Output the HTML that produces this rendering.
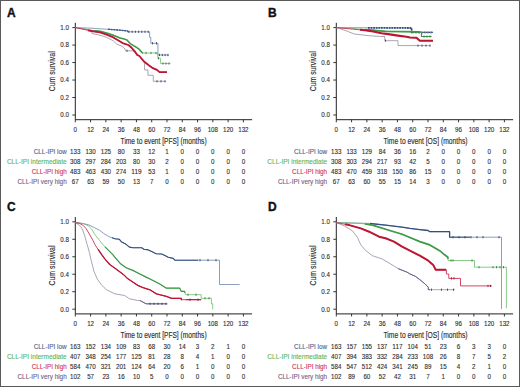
<!DOCTYPE html>
<html><head><meta charset="utf-8"><style>
html,body{margin:0;padding:0;background:#fff;}
body{width:520px;height:387px;overflow:hidden;}
svg{display:block;font-family:"Liberation Sans", sans-serif;}
</style></head><body>
<svg width="520" height="387" viewBox="0 0 520 387">
<rect x="0" y="0" width="520" height="387" fill="#fff"/>
<text x="6.9" y="16.6" font-size="12" font-weight="bold" fill="#111" stroke="#111" stroke-width="0.35">A</text>
<path d="M75.3 22.8V119.7H252.1" fill="none" stroke="#222" stroke-width="1"/>
<text x="68.9" y="117.4" text-anchor="end" font-size="7.0" fill="#2e2e2e" stroke="#2e2e2e" stroke-width="0.12" textLength="8.6" lengthAdjust="spacingAndGlyphs">0.0</text>
<text x="68.9" y="99.92" text-anchor="end" font-size="7.0" fill="#2e2e2e" stroke="#2e2e2e" stroke-width="0.12" textLength="8.6" lengthAdjust="spacingAndGlyphs">0.2</text>
<text x="68.9" y="82.44" text-anchor="end" font-size="7.0" fill="#2e2e2e" stroke="#2e2e2e" stroke-width="0.12" textLength="8.6" lengthAdjust="spacingAndGlyphs">0.4</text>
<text x="68.9" y="64.96" text-anchor="end" font-size="7.0" fill="#2e2e2e" stroke="#2e2e2e" stroke-width="0.12" textLength="8.6" lengthAdjust="spacingAndGlyphs">0.6</text>
<text x="68.9" y="47.48" text-anchor="end" font-size="7.0" fill="#2e2e2e" stroke="#2e2e2e" stroke-width="0.12" textLength="8.6" lengthAdjust="spacingAndGlyphs">0.8</text>
<text x="68.9" y="30" text-anchor="end" font-size="7.0" fill="#2e2e2e" stroke="#2e2e2e" stroke-width="0.12" textLength="8.6" lengthAdjust="spacingAndGlyphs">1.0</text>
<text x="73.58" y="131.8" font-size="7.0" fill="#2e2e2e" stroke="#2e2e2e" stroke-width="0.12" textLength="3.45" lengthAdjust="spacingAndGlyphs">0</text>
<text x="87.13" y="131.8" font-size="7.0" fill="#2e2e2e" stroke="#2e2e2e" stroke-width="0.12" textLength="6.9" lengthAdjust="spacingAndGlyphs">12</text>
<text x="102.41" y="131.8" font-size="7.0" fill="#2e2e2e" stroke="#2e2e2e" stroke-width="0.12" textLength="6.9" lengthAdjust="spacingAndGlyphs">24</text>
<text x="117.7" y="131.8" font-size="7.0" fill="#2e2e2e" stroke="#2e2e2e" stroke-width="0.12" textLength="6.9" lengthAdjust="spacingAndGlyphs">36</text>
<text x="132.98" y="131.8" font-size="7.0" fill="#2e2e2e" stroke="#2e2e2e" stroke-width="0.12" textLength="6.9" lengthAdjust="spacingAndGlyphs">48</text>
<text x="148.26" y="131.8" font-size="7.0" fill="#2e2e2e" stroke="#2e2e2e" stroke-width="0.12" textLength="6.9" lengthAdjust="spacingAndGlyphs">60</text>
<text x="163.54" y="131.8" font-size="7.0" fill="#2e2e2e" stroke="#2e2e2e" stroke-width="0.12" textLength="6.9" lengthAdjust="spacingAndGlyphs">72</text>
<text x="178.82" y="131.8" font-size="7.0" fill="#2e2e2e" stroke="#2e2e2e" stroke-width="0.12" textLength="6.9" lengthAdjust="spacingAndGlyphs">84</text>
<text x="194.11" y="131.8" font-size="7.0" fill="#2e2e2e" stroke="#2e2e2e" stroke-width="0.12" textLength="6.9" lengthAdjust="spacingAndGlyphs">96</text>
<text x="207.66" y="131.8" font-size="7.0" fill="#2e2e2e" stroke="#2e2e2e" stroke-width="0.12" textLength="10.35" lengthAdjust="spacingAndGlyphs">108</text>
<text x="222.94" y="131.8" font-size="7.0" fill="#2e2e2e" stroke="#2e2e2e" stroke-width="0.12" textLength="10.35" lengthAdjust="spacingAndGlyphs">120</text>
<text x="238.23" y="131.8" font-size="7.0" fill="#2e2e2e" stroke="#2e2e2e" stroke-width="0.12" textLength="10.35" lengthAdjust="spacingAndGlyphs">132</text>
<path d="M72.3 115H75.3M72.3 97.52H75.3M72.3 80.04H75.3M72.3 62.56H75.3M72.3 45.08H75.3M72.3 27.6H75.3M75.3 119.7V122.3M90.58 119.7V122.3M105.86 119.7V122.3M121.15 119.7V122.3M136.43 119.7V122.3M151.71 119.7V122.3M166.99 119.7V122.3M182.27 119.7V122.3M197.56 119.7V122.3M212.84 119.7V122.3M228.12 119.7V122.3M243.4 119.7V122.3" stroke="#222" stroke-width="0.9"/>
<text transform="translate(55.3 71.3) rotate(-90)" text-anchor="middle" font-size="8.4" fill="#2e2e2e" stroke="#2e2e2e" stroke-width="0.15" textLength="40" lengthAdjust="spacingAndGlyphs">Cum survival</text>
<text x="120.6" y="143.7" font-size="8.6" fill="#2e2e2e" stroke="#2e2e2e" stroke-width="0.15" textLength="86" lengthAdjust="spacingAndGlyphs">Time to event [PFS] (months)</text>
<path d="M75.3 27.6 L90 28.1 L100 28.8 L110 29.4 L119 30.1 L127.5 30.9 L128.2 31.8 L149.6 31.8 L149.6 37.2 L150.8 37.2 L150.8 43.3 L157.9 43.3 L157.9 55 L169 55" fill="none" stroke="#6f86aa" stroke-width="0.8" stroke-linejoin="round"/>
<path d="M108 29.28 L110 29.4 L119 30.1 L127.5 30.9 L128.2 31.8 L128.5 31.8" fill="none" stroke="#35507e" stroke-width="1.4" stroke-linejoin="round" stroke-dasharray="2 0.7"/>
<path d="M129 30.7v2.2M132.2 30.7v2.2M135.4 30.7v2.2M138.6 30.7v2.2M141.8 30.7v2.2M145 30.7v2.2M148.2 30.7v2.2M152.5 42.2v2.2M156.5 42.2v2.2M159.5 53.9v2.2M162.3 53.9v2.2M165.1 53.9v2.2M167.9 53.9v2.2" stroke="#2a3f6a" stroke-width="0.9"/>
<path d="M75.3 27.6 L91.5 30.3 L100 31.3 L106.7 33 L113.3 35.2 L120 38 L124.4 39.1 L127 40 L130.6 43.9 L136.1 47.2 L139.4 49.4 L142.2 52.8 L143 53 L157.8 53 L157.8 58.3 L160.6 58.3 L160.6 63.5 L170.5 63.5" fill="none" stroke="#6cbb6c" stroke-width="0.8" stroke-linejoin="round"/>
<path d="M95 30.71 L100 31.3 L106.7 33 L113.3 35.2 L120 38 L124.4 39.1 L127 40 L130.6 43.9 L136.1 47.2 L139.4 49.4 L142.2 52.8 L143 53 L143 53" fill="none" stroke="#3d9a45" stroke-width="1.5" stroke-linejoin="round"/>
<path d="M146 51.9v2.2M151 51.9v2.2M156 51.9v2.2M158.5 57.2v2.2M163 62.4v2.2M166 62.4v2.2M169 62.4v2.2" stroke="#2f7f3a" stroke-width="0.9"/>
<path d="M75.3 27.6 L85 29 L91.5 30.6 L92 33.5 L100 35.2 L106.7 37.4 L113.3 40.8 L116.7 44.1 L122.2 46.3 L124.4 48 L125.6 50.8 L132.2 50.8 L136 52.5 L140 57 L144.6 63.3 L144.6 69.9 L147.9 69.9 L147.9 75.3 L153.3 75.3 L153.3 81.3 L165.7 81.3" fill="none" stroke="#978aa2" stroke-width="0.8" stroke-linejoin="round"/>
<path d="M127 49.7v2.2M157 80.2v2.2M161 80.2v2.2M165 80.2v2.2" stroke="#4a3a68" stroke-width="0.9"/>
<path d="M75.3 27.6 L91.5 31 L100 32.4 L106.7 34.7 L113.3 37.4 L118.9 40.8 L123.3 43.4 L128.3 45 L131.7 47.8 L135 51.7 L137.2 55 L139.4 56 L141.3 58.3 L144.6 62 L148.8 65.3 L152.9 68.2 L157 69.9 L159.5 72.2 L167 72.2" fill="none" stroke="#cc3250" stroke-width="0.9" stroke-linejoin="round"/>
<path d="M88 30.27 L91.5 31 L100 32.4 L106.7 34.7 L113.3 37.4 L118.9 40.8 L123.3 43.4 L128.3 45 L131.7 47.8 L135 51.7 L137.2 55 L139.4 56 L141.3 58.3 L144.6 62 L148.8 65.3 L152.9 68.2 L157 69.9 L159.5 72.2 L167 72.2" fill="none" stroke="#bd1533" stroke-width="1.8" stroke-linejoin="round"/>
<text x="33.7" y="154.2" font-size="7.5" fill="#4d6390" stroke="#4d6390" stroke-width="0.12" textLength="33" lengthAdjust="spacingAndGlyphs">CLL-IPI low</text>
<text x="70.12" y="154.2" font-size="7.0" fill="#2e2e2e" stroke="#2e2e2e" stroke-width="0.12" textLength="10.35" lengthAdjust="spacingAndGlyphs">133</text>
<text x="85.41" y="154.2" font-size="7.0" fill="#2e2e2e" stroke="#2e2e2e" stroke-width="0.12" textLength="10.35" lengthAdjust="spacingAndGlyphs">130</text>
<text x="100.69" y="154.2" font-size="7.0" fill="#2e2e2e" stroke="#2e2e2e" stroke-width="0.12" textLength="10.35" lengthAdjust="spacingAndGlyphs">125</text>
<text x="117.7" y="154.2" font-size="7.0" fill="#2e2e2e" stroke="#2e2e2e" stroke-width="0.12" textLength="6.9" lengthAdjust="spacingAndGlyphs">80</text>
<text x="132.98" y="154.2" font-size="7.0" fill="#2e2e2e" stroke="#2e2e2e" stroke-width="0.12" textLength="6.9" lengthAdjust="spacingAndGlyphs">33</text>
<text x="148.26" y="154.2" font-size="7.0" fill="#2e2e2e" stroke="#2e2e2e" stroke-width="0.12" textLength="6.9" lengthAdjust="spacingAndGlyphs">12</text>
<text x="165.27" y="154.2" font-size="7.0" fill="#2e2e2e" stroke="#2e2e2e" stroke-width="0.12" textLength="3.45" lengthAdjust="spacingAndGlyphs">1</text>
<text x="180.55" y="154.2" font-size="7.0" fill="#2e2e2e" stroke="#2e2e2e" stroke-width="0.12" textLength="3.45" lengthAdjust="spacingAndGlyphs">0</text>
<text x="195.83" y="154.2" font-size="7.0" fill="#2e2e2e" stroke="#2e2e2e" stroke-width="0.12" textLength="3.45" lengthAdjust="spacingAndGlyphs">0</text>
<text x="211.11" y="154.2" font-size="7.0" fill="#2e2e2e" stroke="#2e2e2e" stroke-width="0.12" textLength="3.45" lengthAdjust="spacingAndGlyphs">0</text>
<text x="226.4" y="154.2" font-size="7.0" fill="#2e2e2e" stroke="#2e2e2e" stroke-width="0.12" textLength="3.45" lengthAdjust="spacingAndGlyphs">0</text>
<text x="241.68" y="154.2" font-size="7.0" fill="#2e2e2e" stroke="#2e2e2e" stroke-width="0.12" textLength="3.45" lengthAdjust="spacingAndGlyphs">0</text>
<text x="6.9" y="164.2" font-size="7.5" fill="#5db55d" stroke="#5db55d" stroke-width="0.12" textLength="59.8" lengthAdjust="spacingAndGlyphs">CLL-IPI intermediate</text>
<text x="70.12" y="164.2" font-size="7.0" fill="#2e2e2e" stroke="#2e2e2e" stroke-width="0.12" textLength="10.35" lengthAdjust="spacingAndGlyphs">308</text>
<text x="85.41" y="164.2" font-size="7.0" fill="#2e2e2e" stroke="#2e2e2e" stroke-width="0.12" textLength="10.35" lengthAdjust="spacingAndGlyphs">297</text>
<text x="100.69" y="164.2" font-size="7.0" fill="#2e2e2e" stroke="#2e2e2e" stroke-width="0.12" textLength="10.35" lengthAdjust="spacingAndGlyphs">284</text>
<text x="115.97" y="164.2" font-size="7.0" fill="#2e2e2e" stroke="#2e2e2e" stroke-width="0.12" textLength="10.35" lengthAdjust="spacingAndGlyphs">203</text>
<text x="132.98" y="164.2" font-size="7.0" fill="#2e2e2e" stroke="#2e2e2e" stroke-width="0.12" textLength="6.9" lengthAdjust="spacingAndGlyphs">80</text>
<text x="148.26" y="164.2" font-size="7.0" fill="#2e2e2e" stroke="#2e2e2e" stroke-width="0.12" textLength="6.9" lengthAdjust="spacingAndGlyphs">30</text>
<text x="165.27" y="164.2" font-size="7.0" fill="#2e2e2e" stroke="#2e2e2e" stroke-width="0.12" textLength="3.45" lengthAdjust="spacingAndGlyphs">2</text>
<text x="180.55" y="164.2" font-size="7.0" fill="#2e2e2e" stroke="#2e2e2e" stroke-width="0.12" textLength="3.45" lengthAdjust="spacingAndGlyphs">0</text>
<text x="195.83" y="164.2" font-size="7.0" fill="#2e2e2e" stroke="#2e2e2e" stroke-width="0.12" textLength="3.45" lengthAdjust="spacingAndGlyphs">0</text>
<text x="211.11" y="164.2" font-size="7.0" fill="#2e2e2e" stroke="#2e2e2e" stroke-width="0.12" textLength="3.45" lengthAdjust="spacingAndGlyphs">0</text>
<text x="226.4" y="164.2" font-size="7.0" fill="#2e2e2e" stroke="#2e2e2e" stroke-width="0.12" textLength="3.45" lengthAdjust="spacingAndGlyphs">0</text>
<text x="241.68" y="164.2" font-size="7.0" fill="#2e2e2e" stroke="#2e2e2e" stroke-width="0.12" textLength="3.45" lengthAdjust="spacingAndGlyphs">0</text>
<text x="31.7" y="174.3" font-size="7.5" fill="#cc3358" stroke="#cc3358" stroke-width="0.12" textLength="35" lengthAdjust="spacingAndGlyphs">CLL-IPI high</text>
<text x="70.12" y="174.3" font-size="7.0" fill="#2e2e2e" stroke="#2e2e2e" stroke-width="0.12" textLength="10.35" lengthAdjust="spacingAndGlyphs">483</text>
<text x="85.41" y="174.3" font-size="7.0" fill="#2e2e2e" stroke="#2e2e2e" stroke-width="0.12" textLength="10.35" lengthAdjust="spacingAndGlyphs">463</text>
<text x="100.69" y="174.3" font-size="7.0" fill="#2e2e2e" stroke="#2e2e2e" stroke-width="0.12" textLength="10.35" lengthAdjust="spacingAndGlyphs">430</text>
<text x="115.97" y="174.3" font-size="7.0" fill="#2e2e2e" stroke="#2e2e2e" stroke-width="0.12" textLength="10.35" lengthAdjust="spacingAndGlyphs">274</text>
<text x="131.25" y="174.3" font-size="7.0" fill="#2e2e2e" stroke="#2e2e2e" stroke-width="0.12" textLength="10.35" lengthAdjust="spacingAndGlyphs">119</text>
<text x="148.26" y="174.3" font-size="7.0" fill="#2e2e2e" stroke="#2e2e2e" stroke-width="0.12" textLength="6.9" lengthAdjust="spacingAndGlyphs">53</text>
<text x="165.27" y="174.3" font-size="7.0" fill="#2e2e2e" stroke="#2e2e2e" stroke-width="0.12" textLength="3.45" lengthAdjust="spacingAndGlyphs">1</text>
<text x="180.55" y="174.3" font-size="7.0" fill="#2e2e2e" stroke="#2e2e2e" stroke-width="0.12" textLength="3.45" lengthAdjust="spacingAndGlyphs">0</text>
<text x="195.83" y="174.3" font-size="7.0" fill="#2e2e2e" stroke="#2e2e2e" stroke-width="0.12" textLength="3.45" lengthAdjust="spacingAndGlyphs">0</text>
<text x="211.11" y="174.3" font-size="7.0" fill="#2e2e2e" stroke="#2e2e2e" stroke-width="0.12" textLength="3.45" lengthAdjust="spacingAndGlyphs">0</text>
<text x="226.4" y="174.3" font-size="7.0" fill="#2e2e2e" stroke="#2e2e2e" stroke-width="0.12" textLength="3.45" lengthAdjust="spacingAndGlyphs">0</text>
<text x="241.68" y="174.3" font-size="7.0" fill="#2e2e2e" stroke="#2e2e2e" stroke-width="0.12" textLength="3.45" lengthAdjust="spacingAndGlyphs">0</text>
<text x="17.5" y="184.2" font-size="7.5" fill="#6f5e88" stroke="#6f5e88" stroke-width="0.12" textLength="49.2" lengthAdjust="spacingAndGlyphs">CLL-IPI very high</text>
<text x="71.85" y="184.2" font-size="7.0" fill="#2e2e2e" stroke="#2e2e2e" stroke-width="0.12" textLength="6.9" lengthAdjust="spacingAndGlyphs">67</text>
<text x="87.13" y="184.2" font-size="7.0" fill="#2e2e2e" stroke="#2e2e2e" stroke-width="0.12" textLength="6.9" lengthAdjust="spacingAndGlyphs">63</text>
<text x="102.41" y="184.2" font-size="7.0" fill="#2e2e2e" stroke="#2e2e2e" stroke-width="0.12" textLength="6.9" lengthAdjust="spacingAndGlyphs">59</text>
<text x="117.7" y="184.2" font-size="7.0" fill="#2e2e2e" stroke="#2e2e2e" stroke-width="0.12" textLength="6.9" lengthAdjust="spacingAndGlyphs">50</text>
<text x="132.98" y="184.2" font-size="7.0" fill="#2e2e2e" stroke="#2e2e2e" stroke-width="0.12" textLength="6.9" lengthAdjust="spacingAndGlyphs">13</text>
<text x="149.99" y="184.2" font-size="7.0" fill="#2e2e2e" stroke="#2e2e2e" stroke-width="0.12" textLength="3.45" lengthAdjust="spacingAndGlyphs">7</text>
<text x="165.27" y="184.2" font-size="7.0" fill="#2e2e2e" stroke="#2e2e2e" stroke-width="0.12" textLength="3.45" lengthAdjust="spacingAndGlyphs">0</text>
<text x="180.55" y="184.2" font-size="7.0" fill="#2e2e2e" stroke="#2e2e2e" stroke-width="0.12" textLength="3.45" lengthAdjust="spacingAndGlyphs">0</text>
<text x="195.83" y="184.2" font-size="7.0" fill="#2e2e2e" stroke="#2e2e2e" stroke-width="0.12" textLength="3.45" lengthAdjust="spacingAndGlyphs">0</text>
<text x="211.11" y="184.2" font-size="7.0" fill="#2e2e2e" stroke="#2e2e2e" stroke-width="0.12" textLength="3.45" lengthAdjust="spacingAndGlyphs">0</text>
<text x="226.4" y="184.2" font-size="7.0" fill="#2e2e2e" stroke="#2e2e2e" stroke-width="0.12" textLength="3.45" lengthAdjust="spacingAndGlyphs">0</text>
<text x="241.68" y="184.2" font-size="7.0" fill="#2e2e2e" stroke="#2e2e2e" stroke-width="0.12" textLength="3.45" lengthAdjust="spacingAndGlyphs">0</text>
<text x="267.9" y="16.6" font-size="12" font-weight="bold" fill="#111" stroke="#111" stroke-width="0.35">B</text>
<path d="M336.3 22.8V119.7H513.1" fill="none" stroke="#222" stroke-width="1"/>
<text x="329.9" y="117.4" text-anchor="end" font-size="7.0" fill="#2e2e2e" stroke="#2e2e2e" stroke-width="0.12" textLength="8.6" lengthAdjust="spacingAndGlyphs">0.0</text>
<text x="329.9" y="99.92" text-anchor="end" font-size="7.0" fill="#2e2e2e" stroke="#2e2e2e" stroke-width="0.12" textLength="8.6" lengthAdjust="spacingAndGlyphs">0.2</text>
<text x="329.9" y="82.44" text-anchor="end" font-size="7.0" fill="#2e2e2e" stroke="#2e2e2e" stroke-width="0.12" textLength="8.6" lengthAdjust="spacingAndGlyphs">0.4</text>
<text x="329.9" y="64.96" text-anchor="end" font-size="7.0" fill="#2e2e2e" stroke="#2e2e2e" stroke-width="0.12" textLength="8.6" lengthAdjust="spacingAndGlyphs">0.6</text>
<text x="329.9" y="47.48" text-anchor="end" font-size="7.0" fill="#2e2e2e" stroke="#2e2e2e" stroke-width="0.12" textLength="8.6" lengthAdjust="spacingAndGlyphs">0.8</text>
<text x="329.9" y="30" text-anchor="end" font-size="7.0" fill="#2e2e2e" stroke="#2e2e2e" stroke-width="0.12" textLength="8.6" lengthAdjust="spacingAndGlyphs">1.0</text>
<text x="334.57" y="131.8" font-size="7.0" fill="#2e2e2e" stroke="#2e2e2e" stroke-width="0.12" textLength="3.45" lengthAdjust="spacingAndGlyphs">0</text>
<text x="348.13" y="131.8" font-size="7.0" fill="#2e2e2e" stroke="#2e2e2e" stroke-width="0.12" textLength="6.9" lengthAdjust="spacingAndGlyphs">12</text>
<text x="363.41" y="131.8" font-size="7.0" fill="#2e2e2e" stroke="#2e2e2e" stroke-width="0.12" textLength="6.9" lengthAdjust="spacingAndGlyphs">24</text>
<text x="378.7" y="131.8" font-size="7.0" fill="#2e2e2e" stroke="#2e2e2e" stroke-width="0.12" textLength="6.9" lengthAdjust="spacingAndGlyphs">36</text>
<text x="393.98" y="131.8" font-size="7.0" fill="#2e2e2e" stroke="#2e2e2e" stroke-width="0.12" textLength="6.9" lengthAdjust="spacingAndGlyphs">48</text>
<text x="409.26" y="131.8" font-size="7.0" fill="#2e2e2e" stroke="#2e2e2e" stroke-width="0.12" textLength="6.9" lengthAdjust="spacingAndGlyphs">60</text>
<text x="424.54" y="131.8" font-size="7.0" fill="#2e2e2e" stroke="#2e2e2e" stroke-width="0.12" textLength="6.9" lengthAdjust="spacingAndGlyphs">72</text>
<text x="439.82" y="131.8" font-size="7.0" fill="#2e2e2e" stroke="#2e2e2e" stroke-width="0.12" textLength="6.9" lengthAdjust="spacingAndGlyphs">84</text>
<text x="455.11" y="131.8" font-size="7.0" fill="#2e2e2e" stroke="#2e2e2e" stroke-width="0.12" textLength="6.9" lengthAdjust="spacingAndGlyphs">96</text>
<text x="468.66" y="131.8" font-size="7.0" fill="#2e2e2e" stroke="#2e2e2e" stroke-width="0.12" textLength="10.35" lengthAdjust="spacingAndGlyphs">108</text>
<text x="483.94" y="131.8" font-size="7.0" fill="#2e2e2e" stroke="#2e2e2e" stroke-width="0.12" textLength="10.35" lengthAdjust="spacingAndGlyphs">120</text>
<text x="499.23" y="131.8" font-size="7.0" fill="#2e2e2e" stroke="#2e2e2e" stroke-width="0.12" textLength="10.35" lengthAdjust="spacingAndGlyphs">132</text>
<path d="M333.3 115H336.3M333.3 97.52H336.3M333.3 80.04H336.3M333.3 62.56H336.3M333.3 45.08H336.3M333.3 27.6H336.3M336.3 119.7V122.3M351.58 119.7V122.3M366.86 119.7V122.3M382.15 119.7V122.3M397.43 119.7V122.3M412.71 119.7V122.3M427.99 119.7V122.3M443.27 119.7V122.3M458.56 119.7V122.3M473.84 119.7V122.3M489.12 119.7V122.3M504.4 119.7V122.3" stroke="#222" stroke-width="0.9"/>
<text transform="translate(316.3 71.3) rotate(-90)" text-anchor="middle" font-size="8.4" fill="#2e2e2e" stroke="#2e2e2e" stroke-width="0.15" textLength="40" lengthAdjust="spacingAndGlyphs">Cum survival</text>
<text x="383.5" y="143.7" font-size="8.6" fill="#2e2e2e" stroke="#2e2e2e" stroke-width="0.15" textLength="84" lengthAdjust="spacingAndGlyphs">Time to event [OS] (months)</text>
<path d="M336.3 27.6 L369 27.8 L411.6 28 L411.6 32.4 L433 32.4" fill="none" stroke="#6f86aa" stroke-width="0.8" stroke-linejoin="round"/>
<path d="M368 27.79 L369 27.8 L411.6 28 L411.6 32.4 L412 32.4" fill="none" stroke="#35507e" stroke-width="1.8" stroke-linejoin="round" stroke-dasharray="1.8 0.8"/>
<path d="M412 32.4 L433 32.4" fill="none" stroke="#35507e" stroke-width="1.2" stroke-linejoin="round" stroke-dasharray="1.2 1.6"/>
<path d="M413 31.3v2.2M416 31.3v2.2M419 31.3v2.2M422 31.3v2.2M425 31.3v2.2M428 31.3v2.2M431 31.3v2.2" stroke="#2a3f6a" stroke-width="0.9"/>
<path d="M336.3 27.6 L351 28.3 L369 29.9 L385.6 31.3 L419.8 31.8 L419.8 32.5 L421.5 32.5 L421.5 36.5 L431.4 36.5" fill="none" stroke="#6cbb6c" stroke-width="0.8" stroke-linejoin="round"/>
<path d="M365 29.54 L369 29.9 L385.6 31.3 L419.8 31.8 L419.8 32.5 L420 32.5" fill="none" stroke="#3d9a45" stroke-width="1.8" stroke-linejoin="round"/>
<path d="M421 32.5 L421.5 32.5 L421.5 36.5 L431.4 36.5" fill="none" stroke="#3d9a45" stroke-width="1.2" stroke-linejoin="round"/>
<path d="M424 35.4v2.2M427 35.4v2.2M430 35.4v2.2" stroke="#2f7f3a" stroke-width="0.9"/>
<path d="M336.3 27.6 L346 30.7 L354.2 34 L369 35.7 L380.6 36.5 L384.8 36.5 L384.8 40.7 L398 40.7 L398 45.6 L430.6 45.6" fill="none" stroke="#978aa2" stroke-width="0.8" stroke-linejoin="round"/>
<path d="M385.5 39.6v2.2M418 44.5v2.2M422 44.5v2.2M426 44.5v2.2M430 44.5v2.2" stroke="#4a3a68" stroke-width="0.9"/>
<path d="M336.3 27.6 L352.5 29.1 L365 30.3 L373.3 31.5 L381.5 33.2 L389.8 34.4 L398 35.6 L406.4 36.7 L410 37.5 L416.5 37.8 L419.8 40.7 L433 40.7" fill="none" stroke="#cc3250" stroke-width="0.9" stroke-linejoin="round"/>
<path d="M360 29.82 L365 30.3 L373.3 31.5 L381.5 33.2 L389.8 34.4 L398 35.6 L406.4 36.7 L410 37.5 L416.5 37.8 L419.8 40.7 L433 40.7" fill="none" stroke="#bd1533" stroke-width="2.1" stroke-linejoin="round"/>
<text x="294.1" y="154.2" font-size="7.5" fill="#4d6390" stroke="#4d6390" stroke-width="0.12" textLength="33" lengthAdjust="spacingAndGlyphs">CLL-IPI low</text>
<text x="331.12" y="154.2" font-size="7.0" fill="#2e2e2e" stroke="#2e2e2e" stroke-width="0.12" textLength="10.35" lengthAdjust="spacingAndGlyphs">133</text>
<text x="346.41" y="154.2" font-size="7.0" fill="#2e2e2e" stroke="#2e2e2e" stroke-width="0.12" textLength="10.35" lengthAdjust="spacingAndGlyphs">133</text>
<text x="361.69" y="154.2" font-size="7.0" fill="#2e2e2e" stroke="#2e2e2e" stroke-width="0.12" textLength="10.35" lengthAdjust="spacingAndGlyphs">129</text>
<text x="378.7" y="154.2" font-size="7.0" fill="#2e2e2e" stroke="#2e2e2e" stroke-width="0.12" textLength="6.9" lengthAdjust="spacingAndGlyphs">84</text>
<text x="393.98" y="154.2" font-size="7.0" fill="#2e2e2e" stroke="#2e2e2e" stroke-width="0.12" textLength="6.9" lengthAdjust="spacingAndGlyphs">36</text>
<text x="409.26" y="154.2" font-size="7.0" fill="#2e2e2e" stroke="#2e2e2e" stroke-width="0.12" textLength="6.9" lengthAdjust="spacingAndGlyphs">16</text>
<text x="426.27" y="154.2" font-size="7.0" fill="#2e2e2e" stroke="#2e2e2e" stroke-width="0.12" textLength="3.45" lengthAdjust="spacingAndGlyphs">2</text>
<text x="441.55" y="154.2" font-size="7.0" fill="#2e2e2e" stroke="#2e2e2e" stroke-width="0.12" textLength="3.45" lengthAdjust="spacingAndGlyphs">0</text>
<text x="456.83" y="154.2" font-size="7.0" fill="#2e2e2e" stroke="#2e2e2e" stroke-width="0.12" textLength="3.45" lengthAdjust="spacingAndGlyphs">0</text>
<text x="472.11" y="154.2" font-size="7.0" fill="#2e2e2e" stroke="#2e2e2e" stroke-width="0.12" textLength="3.45" lengthAdjust="spacingAndGlyphs">0</text>
<text x="487.39" y="154.2" font-size="7.0" fill="#2e2e2e" stroke="#2e2e2e" stroke-width="0.12" textLength="3.45" lengthAdjust="spacingAndGlyphs">0</text>
<text x="502.68" y="154.2" font-size="7.0" fill="#2e2e2e" stroke="#2e2e2e" stroke-width="0.12" textLength="3.45" lengthAdjust="spacingAndGlyphs">0</text>
<text x="267.3" y="164.2" font-size="7.5" fill="#5db55d" stroke="#5db55d" stroke-width="0.12" textLength="59.8" lengthAdjust="spacingAndGlyphs">CLL-IPI intermediate</text>
<text x="331.12" y="164.2" font-size="7.0" fill="#2e2e2e" stroke="#2e2e2e" stroke-width="0.12" textLength="10.35" lengthAdjust="spacingAndGlyphs">308</text>
<text x="346.41" y="164.2" font-size="7.0" fill="#2e2e2e" stroke="#2e2e2e" stroke-width="0.12" textLength="10.35" lengthAdjust="spacingAndGlyphs">303</text>
<text x="361.69" y="164.2" font-size="7.0" fill="#2e2e2e" stroke="#2e2e2e" stroke-width="0.12" textLength="10.35" lengthAdjust="spacingAndGlyphs">294</text>
<text x="376.97" y="164.2" font-size="7.0" fill="#2e2e2e" stroke="#2e2e2e" stroke-width="0.12" textLength="10.35" lengthAdjust="spacingAndGlyphs">217</text>
<text x="393.98" y="164.2" font-size="7.0" fill="#2e2e2e" stroke="#2e2e2e" stroke-width="0.12" textLength="6.9" lengthAdjust="spacingAndGlyphs">93</text>
<text x="409.26" y="164.2" font-size="7.0" fill="#2e2e2e" stroke="#2e2e2e" stroke-width="0.12" textLength="6.9" lengthAdjust="spacingAndGlyphs">42</text>
<text x="426.27" y="164.2" font-size="7.0" fill="#2e2e2e" stroke="#2e2e2e" stroke-width="0.12" textLength="3.45" lengthAdjust="spacingAndGlyphs">5</text>
<text x="441.55" y="164.2" font-size="7.0" fill="#2e2e2e" stroke="#2e2e2e" stroke-width="0.12" textLength="3.45" lengthAdjust="spacingAndGlyphs">0</text>
<text x="456.83" y="164.2" font-size="7.0" fill="#2e2e2e" stroke="#2e2e2e" stroke-width="0.12" textLength="3.45" lengthAdjust="spacingAndGlyphs">0</text>
<text x="472.11" y="164.2" font-size="7.0" fill="#2e2e2e" stroke="#2e2e2e" stroke-width="0.12" textLength="3.45" lengthAdjust="spacingAndGlyphs">0</text>
<text x="487.39" y="164.2" font-size="7.0" fill="#2e2e2e" stroke="#2e2e2e" stroke-width="0.12" textLength="3.45" lengthAdjust="spacingAndGlyphs">0</text>
<text x="502.68" y="164.2" font-size="7.0" fill="#2e2e2e" stroke="#2e2e2e" stroke-width="0.12" textLength="3.45" lengthAdjust="spacingAndGlyphs">0</text>
<text x="292.1" y="174.3" font-size="7.5" fill="#cc3358" stroke="#cc3358" stroke-width="0.12" textLength="35" lengthAdjust="spacingAndGlyphs">CLL-IPI high</text>
<text x="331.12" y="174.3" font-size="7.0" fill="#2e2e2e" stroke="#2e2e2e" stroke-width="0.12" textLength="10.35" lengthAdjust="spacingAndGlyphs">483</text>
<text x="346.41" y="174.3" font-size="7.0" fill="#2e2e2e" stroke="#2e2e2e" stroke-width="0.12" textLength="10.35" lengthAdjust="spacingAndGlyphs">470</text>
<text x="361.69" y="174.3" font-size="7.0" fill="#2e2e2e" stroke="#2e2e2e" stroke-width="0.12" textLength="10.35" lengthAdjust="spacingAndGlyphs">459</text>
<text x="376.97" y="174.3" font-size="7.0" fill="#2e2e2e" stroke="#2e2e2e" stroke-width="0.12" textLength="10.35" lengthAdjust="spacingAndGlyphs">318</text>
<text x="392.25" y="174.3" font-size="7.0" fill="#2e2e2e" stroke="#2e2e2e" stroke-width="0.12" textLength="10.35" lengthAdjust="spacingAndGlyphs">150</text>
<text x="409.26" y="174.3" font-size="7.0" fill="#2e2e2e" stroke="#2e2e2e" stroke-width="0.12" textLength="6.9" lengthAdjust="spacingAndGlyphs">86</text>
<text x="424.54" y="174.3" font-size="7.0" fill="#2e2e2e" stroke="#2e2e2e" stroke-width="0.12" textLength="6.9" lengthAdjust="spacingAndGlyphs">15</text>
<text x="441.55" y="174.3" font-size="7.0" fill="#2e2e2e" stroke="#2e2e2e" stroke-width="0.12" textLength="3.45" lengthAdjust="spacingAndGlyphs">0</text>
<text x="456.83" y="174.3" font-size="7.0" fill="#2e2e2e" stroke="#2e2e2e" stroke-width="0.12" textLength="3.45" lengthAdjust="spacingAndGlyphs">0</text>
<text x="472.11" y="174.3" font-size="7.0" fill="#2e2e2e" stroke="#2e2e2e" stroke-width="0.12" textLength="3.45" lengthAdjust="spacingAndGlyphs">0</text>
<text x="487.39" y="174.3" font-size="7.0" fill="#2e2e2e" stroke="#2e2e2e" stroke-width="0.12" textLength="3.45" lengthAdjust="spacingAndGlyphs">0</text>
<text x="502.68" y="174.3" font-size="7.0" fill="#2e2e2e" stroke="#2e2e2e" stroke-width="0.12" textLength="3.45" lengthAdjust="spacingAndGlyphs">0</text>
<text x="277.9" y="184.2" font-size="7.5" fill="#6f5e88" stroke="#6f5e88" stroke-width="0.12" textLength="49.2" lengthAdjust="spacingAndGlyphs">CLL-IPI very high</text>
<text x="332.85" y="184.2" font-size="7.0" fill="#2e2e2e" stroke="#2e2e2e" stroke-width="0.12" textLength="6.9" lengthAdjust="spacingAndGlyphs">67</text>
<text x="348.13" y="184.2" font-size="7.0" fill="#2e2e2e" stroke="#2e2e2e" stroke-width="0.12" textLength="6.9" lengthAdjust="spacingAndGlyphs">63</text>
<text x="363.41" y="184.2" font-size="7.0" fill="#2e2e2e" stroke="#2e2e2e" stroke-width="0.12" textLength="6.9" lengthAdjust="spacingAndGlyphs">60</text>
<text x="378.7" y="184.2" font-size="7.0" fill="#2e2e2e" stroke="#2e2e2e" stroke-width="0.12" textLength="6.9" lengthAdjust="spacingAndGlyphs">55</text>
<text x="393.98" y="184.2" font-size="7.0" fill="#2e2e2e" stroke="#2e2e2e" stroke-width="0.12" textLength="6.9" lengthAdjust="spacingAndGlyphs">15</text>
<text x="409.26" y="184.2" font-size="7.0" fill="#2e2e2e" stroke="#2e2e2e" stroke-width="0.12" textLength="6.9" lengthAdjust="spacingAndGlyphs">14</text>
<text x="426.27" y="184.2" font-size="7.0" fill="#2e2e2e" stroke="#2e2e2e" stroke-width="0.12" textLength="3.45" lengthAdjust="spacingAndGlyphs">3</text>
<text x="441.55" y="184.2" font-size="7.0" fill="#2e2e2e" stroke="#2e2e2e" stroke-width="0.12" textLength="3.45" lengthAdjust="spacingAndGlyphs">0</text>
<text x="456.83" y="184.2" font-size="7.0" fill="#2e2e2e" stroke="#2e2e2e" stroke-width="0.12" textLength="3.45" lengthAdjust="spacingAndGlyphs">0</text>
<text x="472.11" y="184.2" font-size="7.0" fill="#2e2e2e" stroke="#2e2e2e" stroke-width="0.12" textLength="3.45" lengthAdjust="spacingAndGlyphs">0</text>
<text x="487.39" y="184.2" font-size="7.0" fill="#2e2e2e" stroke="#2e2e2e" stroke-width="0.12" textLength="3.45" lengthAdjust="spacingAndGlyphs">0</text>
<text x="502.68" y="184.2" font-size="7.0" fill="#2e2e2e" stroke="#2e2e2e" stroke-width="0.12" textLength="3.45" lengthAdjust="spacingAndGlyphs">0</text>
<text x="6.9" y="210.8" font-size="12" font-weight="bold" fill="#111" stroke="#111" stroke-width="0.35">C</text>
<path d="M75.3 217V313.9H252.1" fill="none" stroke="#222" stroke-width="1"/>
<text x="68.9" y="311.6" text-anchor="end" font-size="7.0" fill="#2e2e2e" stroke="#2e2e2e" stroke-width="0.12" textLength="8.6" lengthAdjust="spacingAndGlyphs">0.0</text>
<text x="68.9" y="294.12" text-anchor="end" font-size="7.0" fill="#2e2e2e" stroke="#2e2e2e" stroke-width="0.12" textLength="8.6" lengthAdjust="spacingAndGlyphs">0.2</text>
<text x="68.9" y="276.64" text-anchor="end" font-size="7.0" fill="#2e2e2e" stroke="#2e2e2e" stroke-width="0.12" textLength="8.6" lengthAdjust="spacingAndGlyphs">0.4</text>
<text x="68.9" y="259.16" text-anchor="end" font-size="7.0" fill="#2e2e2e" stroke="#2e2e2e" stroke-width="0.12" textLength="8.6" lengthAdjust="spacingAndGlyphs">0.6</text>
<text x="68.9" y="241.68" text-anchor="end" font-size="7.0" fill="#2e2e2e" stroke="#2e2e2e" stroke-width="0.12" textLength="8.6" lengthAdjust="spacingAndGlyphs">0.8</text>
<text x="68.9" y="224.2" text-anchor="end" font-size="7.0" fill="#2e2e2e" stroke="#2e2e2e" stroke-width="0.12" textLength="8.6" lengthAdjust="spacingAndGlyphs">1.0</text>
<text x="73.58" y="326" font-size="7.0" fill="#2e2e2e" stroke="#2e2e2e" stroke-width="0.12" textLength="3.45" lengthAdjust="spacingAndGlyphs">0</text>
<text x="87.13" y="326" font-size="7.0" fill="#2e2e2e" stroke="#2e2e2e" stroke-width="0.12" textLength="6.9" lengthAdjust="spacingAndGlyphs">12</text>
<text x="102.41" y="326" font-size="7.0" fill="#2e2e2e" stroke="#2e2e2e" stroke-width="0.12" textLength="6.9" lengthAdjust="spacingAndGlyphs">24</text>
<text x="117.7" y="326" font-size="7.0" fill="#2e2e2e" stroke="#2e2e2e" stroke-width="0.12" textLength="6.9" lengthAdjust="spacingAndGlyphs">36</text>
<text x="132.98" y="326" font-size="7.0" fill="#2e2e2e" stroke="#2e2e2e" stroke-width="0.12" textLength="6.9" lengthAdjust="spacingAndGlyphs">48</text>
<text x="148.26" y="326" font-size="7.0" fill="#2e2e2e" stroke="#2e2e2e" stroke-width="0.12" textLength="6.9" lengthAdjust="spacingAndGlyphs">60</text>
<text x="163.54" y="326" font-size="7.0" fill="#2e2e2e" stroke="#2e2e2e" stroke-width="0.12" textLength="6.9" lengthAdjust="spacingAndGlyphs">72</text>
<text x="178.82" y="326" font-size="7.0" fill="#2e2e2e" stroke="#2e2e2e" stroke-width="0.12" textLength="6.9" lengthAdjust="spacingAndGlyphs">84</text>
<text x="194.11" y="326" font-size="7.0" fill="#2e2e2e" stroke="#2e2e2e" stroke-width="0.12" textLength="6.9" lengthAdjust="spacingAndGlyphs">96</text>
<text x="207.66" y="326" font-size="7.0" fill="#2e2e2e" stroke="#2e2e2e" stroke-width="0.12" textLength="10.35" lengthAdjust="spacingAndGlyphs">108</text>
<text x="222.94" y="326" font-size="7.0" fill="#2e2e2e" stroke="#2e2e2e" stroke-width="0.12" textLength="10.35" lengthAdjust="spacingAndGlyphs">120</text>
<text x="238.23" y="326" font-size="7.0" fill="#2e2e2e" stroke="#2e2e2e" stroke-width="0.12" textLength="10.35" lengthAdjust="spacingAndGlyphs">132</text>
<path d="M72.3 309.2H75.3M72.3 291.72H75.3M72.3 274.24H75.3M72.3 256.76H75.3M72.3 239.28H75.3M72.3 221.8H75.3M75.3 313.9V316.5M90.58 313.9V316.5M105.86 313.9V316.5M121.15 313.9V316.5M136.43 313.9V316.5M151.71 313.9V316.5M166.99 313.9V316.5M182.27 313.9V316.5M197.56 313.9V316.5M212.84 313.9V316.5M228.12 313.9V316.5M243.4 313.9V316.5" stroke="#222" stroke-width="0.9"/>
<text transform="translate(55.3 265.5) rotate(-90)" text-anchor="middle" font-size="8.4" fill="#2e2e2e" stroke="#2e2e2e" stroke-width="0.15" textLength="40" lengthAdjust="spacingAndGlyphs">Cum survival</text>
<text x="120.6" y="337.9" font-size="8.6" fill="#2e2e2e" stroke="#2e2e2e" stroke-width="0.15" textLength="86" lengthAdjust="spacingAndGlyphs">Time to event [PFS] (months)</text>
<path d="M75.3 222.6 L81.7 223.3 L88.3 224.7 L93.9 227.4 L99.4 230.2 L103.9 233.6 L108.3 236.3 L112.8 238 L115 238.8 L119.4 239.3 L121.7 242.1 L126.1 244.3 L129.4 247.1 L132.8 247.7 L141.7 247.7 L143.9 249.3 L148.3 249.9 L151.7 251.6 L156.1 253.8 L161.6 254 L164.9 255.6 L168.2 257.3 L173.2 258.4 L174.8 260.2 L219.5 260.2 L219.5 284.5 L239.6 284.5" fill="none" stroke="#6f86aa" stroke-width="0.8" stroke-linejoin="round"/>
<path d="M112 237.7 L112.8 238 L115 238.8 L119.4 239.3 L121.7 242.1 L126.1 244.3 L129.4 247.1 L132.8 247.7 L141.7 247.7 L143.9 249.3 L148.3 249.9 L151.7 251.6 L156.1 253.8 L161.6 254 L164.9 255.6 L168.2 257.3 L173.2 258.4 L174.8 260.2 L198 260.2" fill="none" stroke="#35507e" stroke-width="1.1" stroke-linejoin="round"/>
<path d="M200 259.1v2.2M208 259.1v2.2M216 259.1v2.2" stroke="#2a3f6a" stroke-width="0.9"/>
<path d="M75.3 222.6 L83.9 223.8 L88.3 225.8 L91.7 229.1 L95 234.7 L99.4 240.2 L103.9 245.8 L108.3 250.2 L112.8 254.7 L115 257.3 L120.6 263.8 L126.1 267.7 L132.8 270.4 L139.4 273.8 L146.1 277.1 L150.6 279.3 L159.8 284 L166.4 288.2 L179.7 288.2 L181.3 291.4 L184.6 291.4 L185.5 294.7 L201.2 294.7 L201.2 298.3 L211.4 298.3 L211.4 303.8 L212.7 303.8 L212.7 309.4" fill="none" stroke="#6cbb6c" stroke-width="0.8" stroke-linejoin="round"/>
<path d="M105 246.9 L108.3 250.2 L112.8 254.7 L115 257.3 L120.6 263.8 L126.1 267.7 L132.8 270.4 L139.4 273.8 L146.1 277.1 L150.6 279.3 L159.8 284 L166.4 288.2 L179.7 288.2 L181.3 291.4 L184.6 291.4 L185 292.87" fill="none" stroke="#3d9a45" stroke-width="1.2" stroke-linejoin="round"/>
<path d="M188 293.6v2.2M196 293.6v2.2M205 297.2v2.2M209 297.2v2.2" stroke="#2f7f3a" stroke-width="0.9"/>
<path d="M75.3 222.6 L77.2 223.5 L80.6 226.3 L82.8 230.2 L85 236.9 L87.2 244.7 L89.4 252.4 L91.1 260.2 L92.5 265.5 L94 271.5 L97.3 279 L101.4 284.8 L106.4 289.7 L114.7 293.8 L124.6 295.5 L129.5 298.8 L137.8 300.5 L140 300.5 L146.1 303.8 L167.3 303.8" fill="none" stroke="#978aa2" stroke-width="0.8" stroke-linejoin="round"/>
<path d="M140 300.5 L140 300.5 L146.1 303.8 L167.3 303.8" fill="none" stroke="#6e5f8a" stroke-width="1.0" stroke-linejoin="round"/>
<path d="M150 302.7v2.2M154 302.7v2.2M158 302.7v2.2M162 302.7v2.2M166 302.7v2.2" stroke="#4a3a68" stroke-width="0.9"/>
<path d="M75.3 222.6 L79.4 223.3 L82.8 225.2 L86.1 228.6 L89.4 234.1 L92.8 240.2 L95 244.7 L98.3 249.7 L101.7 254.7 L105 259.1 L109.7 264.5 L115 268.2 L119.4 271.6 L123.9 274.9 L127.2 278.2 L132 281.5 L137.8 285.4 L143 287.6 L149.9 289.8 L156.5 293.9 L166.4 296.4 L171.4 298.3 L181.3 298.3 L181.3 299.7 L201.2 299.7" fill="none" stroke="#cc3250" stroke-width="0.9" stroke-linejoin="round"/>
<path d="M98 249.25 L98.3 249.7 L101.7 254.7 L105 259.1 L109.7 264.5 L115 268.2 L119.4 271.6 L123.9 274.9 L127.2 278.2 L132 281.5 L137.8 285.4 L143 287.6 L149.9 289.8 L156.5 293.9 L166.4 296.4 L171.4 298.3 L181.3 298.3 L181.3 299.7 L182 299.7" fill="none" stroke="#bd1533" stroke-width="1.3" stroke-linejoin="round"/>
<path d="M186 299.7 L201.2 299.7" fill="none" stroke="#bd1533" stroke-width="1.0" stroke-linejoin="round"/>
<path d="M190 298.6v2.2M198 298.6v2.2" stroke="#8f1030" stroke-width="0.9"/>
<text x="33.7" y="348.8" font-size="7.5" fill="#4d6390" stroke="#4d6390" stroke-width="0.12" textLength="33" lengthAdjust="spacingAndGlyphs">CLL-IPI low</text>
<text x="70.12" y="348.8" font-size="7.0" fill="#2e2e2e" stroke="#2e2e2e" stroke-width="0.12" textLength="10.35" lengthAdjust="spacingAndGlyphs">163</text>
<text x="85.41" y="348.8" font-size="7.0" fill="#2e2e2e" stroke="#2e2e2e" stroke-width="0.12" textLength="10.35" lengthAdjust="spacingAndGlyphs">152</text>
<text x="100.69" y="348.8" font-size="7.0" fill="#2e2e2e" stroke="#2e2e2e" stroke-width="0.12" textLength="10.35" lengthAdjust="spacingAndGlyphs">134</text>
<text x="115.97" y="348.8" font-size="7.0" fill="#2e2e2e" stroke="#2e2e2e" stroke-width="0.12" textLength="10.35" lengthAdjust="spacingAndGlyphs">109</text>
<text x="132.98" y="348.8" font-size="7.0" fill="#2e2e2e" stroke="#2e2e2e" stroke-width="0.12" textLength="6.9" lengthAdjust="spacingAndGlyphs">83</text>
<text x="148.26" y="348.8" font-size="7.0" fill="#2e2e2e" stroke="#2e2e2e" stroke-width="0.12" textLength="6.9" lengthAdjust="spacingAndGlyphs">68</text>
<text x="163.54" y="348.8" font-size="7.0" fill="#2e2e2e" stroke="#2e2e2e" stroke-width="0.12" textLength="6.9" lengthAdjust="spacingAndGlyphs">30</text>
<text x="178.82" y="348.8" font-size="7.0" fill="#2e2e2e" stroke="#2e2e2e" stroke-width="0.12" textLength="6.9" lengthAdjust="spacingAndGlyphs">14</text>
<text x="195.83" y="348.8" font-size="7.0" fill="#2e2e2e" stroke="#2e2e2e" stroke-width="0.12" textLength="3.45" lengthAdjust="spacingAndGlyphs">3</text>
<text x="211.11" y="348.8" font-size="7.0" fill="#2e2e2e" stroke="#2e2e2e" stroke-width="0.12" textLength="3.45" lengthAdjust="spacingAndGlyphs">2</text>
<text x="226.4" y="348.8" font-size="7.0" fill="#2e2e2e" stroke="#2e2e2e" stroke-width="0.12" textLength="3.45" lengthAdjust="spacingAndGlyphs">1</text>
<text x="241.68" y="348.8" font-size="7.0" fill="#2e2e2e" stroke="#2e2e2e" stroke-width="0.12" textLength="3.45" lengthAdjust="spacingAndGlyphs">0</text>
<text x="6.9" y="358.8" font-size="7.5" fill="#5db55d" stroke="#5db55d" stroke-width="0.12" textLength="59.8" lengthAdjust="spacingAndGlyphs">CLL-IPI intermediate</text>
<text x="70.12" y="358.8" font-size="7.0" fill="#2e2e2e" stroke="#2e2e2e" stroke-width="0.12" textLength="10.35" lengthAdjust="spacingAndGlyphs">407</text>
<text x="85.41" y="358.8" font-size="7.0" fill="#2e2e2e" stroke="#2e2e2e" stroke-width="0.12" textLength="10.35" lengthAdjust="spacingAndGlyphs">348</text>
<text x="100.69" y="358.8" font-size="7.0" fill="#2e2e2e" stroke="#2e2e2e" stroke-width="0.12" textLength="10.35" lengthAdjust="spacingAndGlyphs">254</text>
<text x="115.97" y="358.8" font-size="7.0" fill="#2e2e2e" stroke="#2e2e2e" stroke-width="0.12" textLength="10.35" lengthAdjust="spacingAndGlyphs">177</text>
<text x="131.25" y="358.8" font-size="7.0" fill="#2e2e2e" stroke="#2e2e2e" stroke-width="0.12" textLength="10.35" lengthAdjust="spacingAndGlyphs">125</text>
<text x="148.26" y="358.8" font-size="7.0" fill="#2e2e2e" stroke="#2e2e2e" stroke-width="0.12" textLength="6.9" lengthAdjust="spacingAndGlyphs">81</text>
<text x="163.54" y="358.8" font-size="7.0" fill="#2e2e2e" stroke="#2e2e2e" stroke-width="0.12" textLength="6.9" lengthAdjust="spacingAndGlyphs">28</text>
<text x="180.55" y="358.8" font-size="7.0" fill="#2e2e2e" stroke="#2e2e2e" stroke-width="0.12" textLength="3.45" lengthAdjust="spacingAndGlyphs">8</text>
<text x="195.83" y="358.8" font-size="7.0" fill="#2e2e2e" stroke="#2e2e2e" stroke-width="0.12" textLength="3.45" lengthAdjust="spacingAndGlyphs">4</text>
<text x="211.11" y="358.8" font-size="7.0" fill="#2e2e2e" stroke="#2e2e2e" stroke-width="0.12" textLength="3.45" lengthAdjust="spacingAndGlyphs">1</text>
<text x="226.4" y="358.8" font-size="7.0" fill="#2e2e2e" stroke="#2e2e2e" stroke-width="0.12" textLength="3.45" lengthAdjust="spacingAndGlyphs">0</text>
<text x="241.68" y="358.8" font-size="7.0" fill="#2e2e2e" stroke="#2e2e2e" stroke-width="0.12" textLength="3.45" lengthAdjust="spacingAndGlyphs">0</text>
<text x="31.7" y="368.9" font-size="7.5" fill="#cc3358" stroke="#cc3358" stroke-width="0.12" textLength="35" lengthAdjust="spacingAndGlyphs">CLL-IPI high</text>
<text x="70.12" y="368.9" font-size="7.0" fill="#2e2e2e" stroke="#2e2e2e" stroke-width="0.12" textLength="10.35" lengthAdjust="spacingAndGlyphs">584</text>
<text x="85.41" y="368.9" font-size="7.0" fill="#2e2e2e" stroke="#2e2e2e" stroke-width="0.12" textLength="10.35" lengthAdjust="spacingAndGlyphs">470</text>
<text x="100.69" y="368.9" font-size="7.0" fill="#2e2e2e" stroke="#2e2e2e" stroke-width="0.12" textLength="10.35" lengthAdjust="spacingAndGlyphs">321</text>
<text x="115.97" y="368.9" font-size="7.0" fill="#2e2e2e" stroke="#2e2e2e" stroke-width="0.12" textLength="10.35" lengthAdjust="spacingAndGlyphs">201</text>
<text x="131.25" y="368.9" font-size="7.0" fill="#2e2e2e" stroke="#2e2e2e" stroke-width="0.12" textLength="10.35" lengthAdjust="spacingAndGlyphs">124</text>
<text x="148.26" y="368.9" font-size="7.0" fill="#2e2e2e" stroke="#2e2e2e" stroke-width="0.12" textLength="6.9" lengthAdjust="spacingAndGlyphs">64</text>
<text x="163.54" y="368.9" font-size="7.0" fill="#2e2e2e" stroke="#2e2e2e" stroke-width="0.12" textLength="6.9" lengthAdjust="spacingAndGlyphs">20</text>
<text x="180.55" y="368.9" font-size="7.0" fill="#2e2e2e" stroke="#2e2e2e" stroke-width="0.12" textLength="3.45" lengthAdjust="spacingAndGlyphs">6</text>
<text x="195.83" y="368.9" font-size="7.0" fill="#2e2e2e" stroke="#2e2e2e" stroke-width="0.12" textLength="3.45" lengthAdjust="spacingAndGlyphs">1</text>
<text x="211.11" y="368.9" font-size="7.0" fill="#2e2e2e" stroke="#2e2e2e" stroke-width="0.12" textLength="3.45" lengthAdjust="spacingAndGlyphs">0</text>
<text x="226.4" y="368.9" font-size="7.0" fill="#2e2e2e" stroke="#2e2e2e" stroke-width="0.12" textLength="3.45" lengthAdjust="spacingAndGlyphs">0</text>
<text x="241.68" y="368.9" font-size="7.0" fill="#2e2e2e" stroke="#2e2e2e" stroke-width="0.12" textLength="3.45" lengthAdjust="spacingAndGlyphs">0</text>
<text x="17.5" y="378.8" font-size="7.5" fill="#6f5e88" stroke="#6f5e88" stroke-width="0.12" textLength="49.2" lengthAdjust="spacingAndGlyphs">CLL-IPI very high</text>
<text x="70.12" y="378.8" font-size="7.0" fill="#2e2e2e" stroke="#2e2e2e" stroke-width="0.12" textLength="10.35" lengthAdjust="spacingAndGlyphs">102</text>
<text x="87.13" y="378.8" font-size="7.0" fill="#2e2e2e" stroke="#2e2e2e" stroke-width="0.12" textLength="6.9" lengthAdjust="spacingAndGlyphs">57</text>
<text x="102.41" y="378.8" font-size="7.0" fill="#2e2e2e" stroke="#2e2e2e" stroke-width="0.12" textLength="6.9" lengthAdjust="spacingAndGlyphs">23</text>
<text x="117.7" y="378.8" font-size="7.0" fill="#2e2e2e" stroke="#2e2e2e" stroke-width="0.12" textLength="6.9" lengthAdjust="spacingAndGlyphs">16</text>
<text x="132.98" y="378.8" font-size="7.0" fill="#2e2e2e" stroke="#2e2e2e" stroke-width="0.12" textLength="6.9" lengthAdjust="spacingAndGlyphs">10</text>
<text x="149.99" y="378.8" font-size="7.0" fill="#2e2e2e" stroke="#2e2e2e" stroke-width="0.12" textLength="3.45" lengthAdjust="spacingAndGlyphs">5</text>
<text x="165.27" y="378.8" font-size="7.0" fill="#2e2e2e" stroke="#2e2e2e" stroke-width="0.12" textLength="3.45" lengthAdjust="spacingAndGlyphs">0</text>
<text x="180.55" y="378.8" font-size="7.0" fill="#2e2e2e" stroke="#2e2e2e" stroke-width="0.12" textLength="3.45" lengthAdjust="spacingAndGlyphs">0</text>
<text x="195.83" y="378.8" font-size="7.0" fill="#2e2e2e" stroke="#2e2e2e" stroke-width="0.12" textLength="3.45" lengthAdjust="spacingAndGlyphs">0</text>
<text x="211.11" y="378.8" font-size="7.0" fill="#2e2e2e" stroke="#2e2e2e" stroke-width="0.12" textLength="3.45" lengthAdjust="spacingAndGlyphs">0</text>
<text x="226.4" y="378.8" font-size="7.0" fill="#2e2e2e" stroke="#2e2e2e" stroke-width="0.12" textLength="3.45" lengthAdjust="spacingAndGlyphs">0</text>
<text x="241.68" y="378.8" font-size="7.0" fill="#2e2e2e" stroke="#2e2e2e" stroke-width="0.12" textLength="3.45" lengthAdjust="spacingAndGlyphs">0</text>
<text x="267.9" y="210.8" font-size="12" font-weight="bold" fill="#111" stroke="#111" stroke-width="0.35">D</text>
<path d="M336.3 217V313.9H513.1" fill="none" stroke="#222" stroke-width="1"/>
<text x="329.9" y="311.6" text-anchor="end" font-size="7.0" fill="#2e2e2e" stroke="#2e2e2e" stroke-width="0.12" textLength="8.6" lengthAdjust="spacingAndGlyphs">0.0</text>
<text x="329.9" y="294.12" text-anchor="end" font-size="7.0" fill="#2e2e2e" stroke="#2e2e2e" stroke-width="0.12" textLength="8.6" lengthAdjust="spacingAndGlyphs">0.2</text>
<text x="329.9" y="276.64" text-anchor="end" font-size="7.0" fill="#2e2e2e" stroke="#2e2e2e" stroke-width="0.12" textLength="8.6" lengthAdjust="spacingAndGlyphs">0.4</text>
<text x="329.9" y="259.16" text-anchor="end" font-size="7.0" fill="#2e2e2e" stroke="#2e2e2e" stroke-width="0.12" textLength="8.6" lengthAdjust="spacingAndGlyphs">0.6</text>
<text x="329.9" y="241.68" text-anchor="end" font-size="7.0" fill="#2e2e2e" stroke="#2e2e2e" stroke-width="0.12" textLength="8.6" lengthAdjust="spacingAndGlyphs">0.8</text>
<text x="329.9" y="224.2" text-anchor="end" font-size="7.0" fill="#2e2e2e" stroke="#2e2e2e" stroke-width="0.12" textLength="8.6" lengthAdjust="spacingAndGlyphs">1.0</text>
<text x="334.57" y="326" font-size="7.0" fill="#2e2e2e" stroke="#2e2e2e" stroke-width="0.12" textLength="3.45" lengthAdjust="spacingAndGlyphs">0</text>
<text x="348.13" y="326" font-size="7.0" fill="#2e2e2e" stroke="#2e2e2e" stroke-width="0.12" textLength="6.9" lengthAdjust="spacingAndGlyphs">12</text>
<text x="363.41" y="326" font-size="7.0" fill="#2e2e2e" stroke="#2e2e2e" stroke-width="0.12" textLength="6.9" lengthAdjust="spacingAndGlyphs">24</text>
<text x="378.7" y="326" font-size="7.0" fill="#2e2e2e" stroke="#2e2e2e" stroke-width="0.12" textLength="6.9" lengthAdjust="spacingAndGlyphs">36</text>
<text x="393.98" y="326" font-size="7.0" fill="#2e2e2e" stroke="#2e2e2e" stroke-width="0.12" textLength="6.9" lengthAdjust="spacingAndGlyphs">48</text>
<text x="409.26" y="326" font-size="7.0" fill="#2e2e2e" stroke="#2e2e2e" stroke-width="0.12" textLength="6.9" lengthAdjust="spacingAndGlyphs">60</text>
<text x="424.54" y="326" font-size="7.0" fill="#2e2e2e" stroke="#2e2e2e" stroke-width="0.12" textLength="6.9" lengthAdjust="spacingAndGlyphs">72</text>
<text x="439.82" y="326" font-size="7.0" fill="#2e2e2e" stroke="#2e2e2e" stroke-width="0.12" textLength="6.9" lengthAdjust="spacingAndGlyphs">84</text>
<text x="455.11" y="326" font-size="7.0" fill="#2e2e2e" stroke="#2e2e2e" stroke-width="0.12" textLength="6.9" lengthAdjust="spacingAndGlyphs">96</text>
<text x="468.66" y="326" font-size="7.0" fill="#2e2e2e" stroke="#2e2e2e" stroke-width="0.12" textLength="10.35" lengthAdjust="spacingAndGlyphs">108</text>
<text x="483.94" y="326" font-size="7.0" fill="#2e2e2e" stroke="#2e2e2e" stroke-width="0.12" textLength="10.35" lengthAdjust="spacingAndGlyphs">120</text>
<text x="499.23" y="326" font-size="7.0" fill="#2e2e2e" stroke="#2e2e2e" stroke-width="0.12" textLength="10.35" lengthAdjust="spacingAndGlyphs">132</text>
<path d="M333.3 309.2H336.3M333.3 291.72H336.3M333.3 274.24H336.3M333.3 256.76H336.3M333.3 239.28H336.3M333.3 221.8H336.3M336.3 313.9V316.5M351.58 313.9V316.5M366.86 313.9V316.5M382.15 313.9V316.5M397.43 313.9V316.5M412.71 313.9V316.5M427.99 313.9V316.5M443.27 313.9V316.5M458.56 313.9V316.5M473.84 313.9V316.5M489.12 313.9V316.5M504.4 313.9V316.5" stroke="#222" stroke-width="0.9"/>
<text transform="translate(316.3 265.5) rotate(-90)" text-anchor="middle" font-size="8.4" fill="#2e2e2e" stroke="#2e2e2e" stroke-width="0.15" textLength="40" lengthAdjust="spacingAndGlyphs">Cum survival</text>
<text x="383.5" y="337.9" font-size="8.6" fill="#2e2e2e" stroke="#2e2e2e" stroke-width="0.15" textLength="84" lengthAdjust="spacingAndGlyphs">Time to event [OS] (months)</text>
<path d="M336.3 222.6 L369.1 223.4 L385.6 225.1 L402.1 227.2 L409.9 228.4 L419.8 229.6 L428.1 230.5 L429.8 231.7 L449.6 231.7 L449.6 237.2 L501.5 237.2 L501.5 308.9" fill="none" stroke="#6f86aa" stroke-width="0.8" stroke-linejoin="round"/>
<path d="M370 223.49 L385.6 225.1 L402.1 227.2 L409.9 228.4 L419.8 229.6 L428.1 230.5 L429.8 231.7 L449.6 231.7 L449.6 237.2 L450 237.2" fill="none" stroke="#35507e" stroke-width="1.3" stroke-linejoin="round"/>
<path d="M450 237.2 L470 237.2" fill="none" stroke="#35507e" stroke-width="1.0" stroke-linejoin="round"/>
<path d="M453 236.1v2.2M459 236.1v2.2M465 236.1v2.2M471 236.1v2.2M477 236.1v2.2M483 236.1v2.2M499 236.1v2.2" stroke="#2a3f6a" stroke-width="0.9"/>
<path d="M336.3 222.6 L360.8 223.4 L372.4 225.1 L385.6 229.2 L402.1 234.2 L409.9 237.5 L419.8 241.6 L429.8 244.9 L439.7 250.7 L444.6 254.8 L447.9 257.3 L448.1 260.5 L474.5 260.5 L474.5 267.2 L506.4 267.2 L506.4 308.3" fill="none" stroke="#6cbb6c" stroke-width="0.8" stroke-linejoin="round"/>
<path d="M365 224.02 L372.4 225.1 L385.6 229.2 L402.1 234.2 L409.9 237.5 L419.8 241.6 L429.8 244.9 L439.7 250.7 L444.6 254.8 L447.9 257.3 L448 258.9" fill="none" stroke="#3d9a45" stroke-width="1.7" stroke-linejoin="round"/>
<path d="M451 259.4v2.2M453 259.4v2.2M472 259.4v2.2M479 266.1v2.2M493 266.1v2.2M496.5 266.1v2.2M500 266.1v2.2M503.5 266.1v2.2" stroke="#2f7f3a" stroke-width="0.9"/>
<path d="M336.3 222.6 L344.3 225.9 L352.5 230.9 L357.5 237.5 L360.8 244.9 L365.8 250.7 L372.4 255.7 L382.3 259 L390.5 263.9 L398.8 268.9 L407.1 272.2 L409.9 273.9 L415.3 276.3 L419.8 279.6 L425 283.9 L428.3 287.2 L428.3 289.7 L454.7 289.7" fill="none" stroke="#978aa2" stroke-width="0.8" stroke-linejoin="round"/>
<path d="M398 268.42 L398.8 268.9 L407.1 272.2 L409.9 273.9 L415.3 276.3 L419.8 279.6 L425 283.9 L428.3 287.2 L428.3 289.7 L430 289.7" fill="none" stroke="#6e5f8a" stroke-width="1.0" stroke-linejoin="round"/>
<path d="M431.5 288.6v2.2M441.5 288.6v2.2M447.5 288.6v2.2M453.5 288.6v2.2" stroke="#4a3a68" stroke-width="0.9"/>
<path d="M336.3 222.6 L349.2 225.1 L360.8 228.4 L369.1 231.7 L379 236.7 L385.6 238.3 L393.9 241.6 L402.1 246.6 L409.9 250.7 L419.8 255.7 L428.3 260.7 L433.2 264.9 L435.7 269.8 L446.4 269.8 L446.4 274 L448.8 274 L448.8 278.4 L460.5 278.4 L460.5 285.9 L491.9 285.9" fill="none" stroke="#cc3250" stroke-width="0.9" stroke-linejoin="round"/>
<path d="M345 224.29 L349.2 225.1 L360.8 228.4 L369.1 231.7 L379 236.7 L385.6 238.3 L393.9 241.6 L402.1 246.6 L409.9 250.7 L419.8 255.7 L428.3 260.7 L433.2 264.9 L435.7 269.8 L446 269.8" fill="none" stroke="#bd1533" stroke-width="2.0" stroke-linejoin="round"/>
<path d="M451.5 277.3v2.2M454 277.3v2.2M488 284.8v2.2M490.5 284.8v2.2" stroke="#8f1030" stroke-width="0.9"/>
<text x="294.1" y="348.8" font-size="7.5" fill="#4d6390" stroke="#4d6390" stroke-width="0.12" textLength="33" lengthAdjust="spacingAndGlyphs">CLL-IPI low</text>
<text x="331.12" y="348.8" font-size="7.0" fill="#2e2e2e" stroke="#2e2e2e" stroke-width="0.12" textLength="10.35" lengthAdjust="spacingAndGlyphs">163</text>
<text x="346.41" y="348.8" font-size="7.0" fill="#2e2e2e" stroke="#2e2e2e" stroke-width="0.12" textLength="10.35" lengthAdjust="spacingAndGlyphs">157</text>
<text x="361.69" y="348.8" font-size="7.0" fill="#2e2e2e" stroke="#2e2e2e" stroke-width="0.12" textLength="10.35" lengthAdjust="spacingAndGlyphs">155</text>
<text x="376.97" y="348.8" font-size="7.0" fill="#2e2e2e" stroke="#2e2e2e" stroke-width="0.12" textLength="10.35" lengthAdjust="spacingAndGlyphs">137</text>
<text x="392.25" y="348.8" font-size="7.0" fill="#2e2e2e" stroke="#2e2e2e" stroke-width="0.12" textLength="10.35" lengthAdjust="spacingAndGlyphs">117</text>
<text x="407.54" y="348.8" font-size="7.0" fill="#2e2e2e" stroke="#2e2e2e" stroke-width="0.12" textLength="10.35" lengthAdjust="spacingAndGlyphs">104</text>
<text x="424.54" y="348.8" font-size="7.0" fill="#2e2e2e" stroke="#2e2e2e" stroke-width="0.12" textLength="6.9" lengthAdjust="spacingAndGlyphs">51</text>
<text x="439.82" y="348.8" font-size="7.0" fill="#2e2e2e" stroke="#2e2e2e" stroke-width="0.12" textLength="6.9" lengthAdjust="spacingAndGlyphs">23</text>
<text x="456.83" y="348.8" font-size="7.0" fill="#2e2e2e" stroke="#2e2e2e" stroke-width="0.12" textLength="3.45" lengthAdjust="spacingAndGlyphs">6</text>
<text x="472.11" y="348.8" font-size="7.0" fill="#2e2e2e" stroke="#2e2e2e" stroke-width="0.12" textLength="3.45" lengthAdjust="spacingAndGlyphs">3</text>
<text x="487.39" y="348.8" font-size="7.0" fill="#2e2e2e" stroke="#2e2e2e" stroke-width="0.12" textLength="3.45" lengthAdjust="spacingAndGlyphs">3</text>
<text x="502.68" y="348.8" font-size="7.0" fill="#2e2e2e" stroke="#2e2e2e" stroke-width="0.12" textLength="3.45" lengthAdjust="spacingAndGlyphs">0</text>
<text x="267.3" y="358.8" font-size="7.5" fill="#5db55d" stroke="#5db55d" stroke-width="0.12" textLength="59.8" lengthAdjust="spacingAndGlyphs">CLL-IPI intermediate</text>
<text x="331.12" y="358.8" font-size="7.0" fill="#2e2e2e" stroke="#2e2e2e" stroke-width="0.12" textLength="10.35" lengthAdjust="spacingAndGlyphs">407</text>
<text x="346.41" y="358.8" font-size="7.0" fill="#2e2e2e" stroke="#2e2e2e" stroke-width="0.12" textLength="10.35" lengthAdjust="spacingAndGlyphs">394</text>
<text x="361.69" y="358.8" font-size="7.0" fill="#2e2e2e" stroke="#2e2e2e" stroke-width="0.12" textLength="10.35" lengthAdjust="spacingAndGlyphs">383</text>
<text x="376.97" y="358.8" font-size="7.0" fill="#2e2e2e" stroke="#2e2e2e" stroke-width="0.12" textLength="10.35" lengthAdjust="spacingAndGlyphs">332</text>
<text x="392.25" y="358.8" font-size="7.0" fill="#2e2e2e" stroke="#2e2e2e" stroke-width="0.12" textLength="10.35" lengthAdjust="spacingAndGlyphs">284</text>
<text x="407.54" y="358.8" font-size="7.0" fill="#2e2e2e" stroke="#2e2e2e" stroke-width="0.12" textLength="10.35" lengthAdjust="spacingAndGlyphs">233</text>
<text x="422.82" y="358.8" font-size="7.0" fill="#2e2e2e" stroke="#2e2e2e" stroke-width="0.12" textLength="10.35" lengthAdjust="spacingAndGlyphs">108</text>
<text x="439.82" y="358.8" font-size="7.0" fill="#2e2e2e" stroke="#2e2e2e" stroke-width="0.12" textLength="6.9" lengthAdjust="spacingAndGlyphs">26</text>
<text x="456.83" y="358.8" font-size="7.0" fill="#2e2e2e" stroke="#2e2e2e" stroke-width="0.12" textLength="3.45" lengthAdjust="spacingAndGlyphs">8</text>
<text x="472.11" y="358.8" font-size="7.0" fill="#2e2e2e" stroke="#2e2e2e" stroke-width="0.12" textLength="3.45" lengthAdjust="spacingAndGlyphs">7</text>
<text x="487.39" y="358.8" font-size="7.0" fill="#2e2e2e" stroke="#2e2e2e" stroke-width="0.12" textLength="3.45" lengthAdjust="spacingAndGlyphs">5</text>
<text x="502.68" y="358.8" font-size="7.0" fill="#2e2e2e" stroke="#2e2e2e" stroke-width="0.12" textLength="3.45" lengthAdjust="spacingAndGlyphs">2</text>
<text x="292.1" y="368.9" font-size="7.5" fill="#cc3358" stroke="#cc3358" stroke-width="0.12" textLength="35" lengthAdjust="spacingAndGlyphs">CLL-IPI high</text>
<text x="331.12" y="368.9" font-size="7.0" fill="#2e2e2e" stroke="#2e2e2e" stroke-width="0.12" textLength="10.35" lengthAdjust="spacingAndGlyphs">584</text>
<text x="346.41" y="368.9" font-size="7.0" fill="#2e2e2e" stroke="#2e2e2e" stroke-width="0.12" textLength="10.35" lengthAdjust="spacingAndGlyphs">547</text>
<text x="361.69" y="368.9" font-size="7.0" fill="#2e2e2e" stroke="#2e2e2e" stroke-width="0.12" textLength="10.35" lengthAdjust="spacingAndGlyphs">512</text>
<text x="376.97" y="368.9" font-size="7.0" fill="#2e2e2e" stroke="#2e2e2e" stroke-width="0.12" textLength="10.35" lengthAdjust="spacingAndGlyphs">424</text>
<text x="392.25" y="368.9" font-size="7.0" fill="#2e2e2e" stroke="#2e2e2e" stroke-width="0.12" textLength="10.35" lengthAdjust="spacingAndGlyphs">341</text>
<text x="407.54" y="368.9" font-size="7.0" fill="#2e2e2e" stroke="#2e2e2e" stroke-width="0.12" textLength="10.35" lengthAdjust="spacingAndGlyphs">245</text>
<text x="424.54" y="368.9" font-size="7.0" fill="#2e2e2e" stroke="#2e2e2e" stroke-width="0.12" textLength="6.9" lengthAdjust="spacingAndGlyphs">89</text>
<text x="439.82" y="368.9" font-size="7.0" fill="#2e2e2e" stroke="#2e2e2e" stroke-width="0.12" textLength="6.9" lengthAdjust="spacingAndGlyphs">15</text>
<text x="456.83" y="368.9" font-size="7.0" fill="#2e2e2e" stroke="#2e2e2e" stroke-width="0.12" textLength="3.45" lengthAdjust="spacingAndGlyphs">4</text>
<text x="472.11" y="368.9" font-size="7.0" fill="#2e2e2e" stroke="#2e2e2e" stroke-width="0.12" textLength="3.45" lengthAdjust="spacingAndGlyphs">2</text>
<text x="487.39" y="368.9" font-size="7.0" fill="#2e2e2e" stroke="#2e2e2e" stroke-width="0.12" textLength="3.45" lengthAdjust="spacingAndGlyphs">1</text>
<text x="502.68" y="368.9" font-size="7.0" fill="#2e2e2e" stroke="#2e2e2e" stroke-width="0.12" textLength="3.45" lengthAdjust="spacingAndGlyphs">0</text>
<text x="277.9" y="378.8" font-size="7.5" fill="#6f5e88" stroke="#6f5e88" stroke-width="0.12" textLength="49.2" lengthAdjust="spacingAndGlyphs">CLL-IPI very high</text>
<text x="331.12" y="378.8" font-size="7.0" fill="#2e2e2e" stroke="#2e2e2e" stroke-width="0.12" textLength="10.35" lengthAdjust="spacingAndGlyphs">102</text>
<text x="348.13" y="378.8" font-size="7.0" fill="#2e2e2e" stroke="#2e2e2e" stroke-width="0.12" textLength="6.9" lengthAdjust="spacingAndGlyphs">89</text>
<text x="363.41" y="378.8" font-size="7.0" fill="#2e2e2e" stroke="#2e2e2e" stroke-width="0.12" textLength="6.9" lengthAdjust="spacingAndGlyphs">60</text>
<text x="378.7" y="378.8" font-size="7.0" fill="#2e2e2e" stroke="#2e2e2e" stroke-width="0.12" textLength="6.9" lengthAdjust="spacingAndGlyphs">52</text>
<text x="393.98" y="378.8" font-size="7.0" fill="#2e2e2e" stroke="#2e2e2e" stroke-width="0.12" textLength="6.9" lengthAdjust="spacingAndGlyphs">42</text>
<text x="409.26" y="378.8" font-size="7.0" fill="#2e2e2e" stroke="#2e2e2e" stroke-width="0.12" textLength="6.9" lengthAdjust="spacingAndGlyphs">31</text>
<text x="426.27" y="378.8" font-size="7.0" fill="#2e2e2e" stroke="#2e2e2e" stroke-width="0.12" textLength="3.45" lengthAdjust="spacingAndGlyphs">7</text>
<text x="441.55" y="378.8" font-size="7.0" fill="#2e2e2e" stroke="#2e2e2e" stroke-width="0.12" textLength="3.45" lengthAdjust="spacingAndGlyphs">1</text>
<text x="456.83" y="378.8" font-size="7.0" fill="#2e2e2e" stroke="#2e2e2e" stroke-width="0.12" textLength="3.45" lengthAdjust="spacingAndGlyphs">0</text>
<text x="472.11" y="378.8" font-size="7.0" fill="#2e2e2e" stroke="#2e2e2e" stroke-width="0.12" textLength="3.45" lengthAdjust="spacingAndGlyphs">0</text>
<text x="487.39" y="378.8" font-size="7.0" fill="#2e2e2e" stroke="#2e2e2e" stroke-width="0.12" textLength="3.45" lengthAdjust="spacingAndGlyphs">0</text>
<text x="502.68" y="378.8" font-size="7.0" fill="#2e2e2e" stroke="#2e2e2e" stroke-width="0.12" textLength="3.45" lengthAdjust="spacingAndGlyphs">0</text>
<rect x="0.5" y="0.5" width="519" height="386" fill="none" stroke="#5a5a5a" stroke-width="1"/>
</svg>
</body></html>
